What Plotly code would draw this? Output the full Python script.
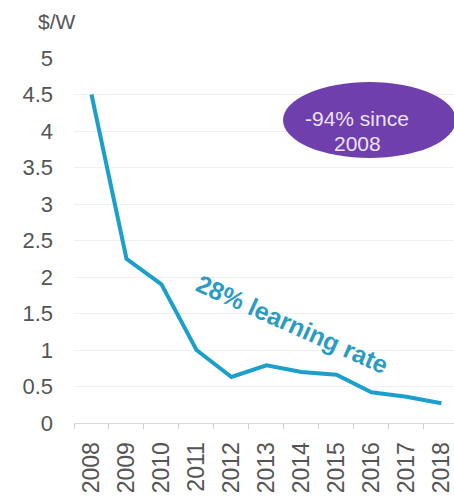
import plotly.graph_objects as go

# Solar module price, $/W
years = ["2008", "2009", "2010", "2011", "2012", "2013", "2014", "2015", "2016", "2017", "2018"]
price = [4.5, 2.25, 1.9, 1.0, 0.63, 0.79, 0.70, 0.66, 0.42, 0.36, 0.27]
y_ticks = [0, 0.5, 1, 1.5, 2, 2.5, 3, 3.5, 4, 4.5, 5]
y_tick_text = ["0", "0.5", "1", "1.5", "2", "2.5", "3", "3.5", "4", "4.5", "5"]

FONT = "Liberation Sans, Arial, sans-serif"
LINE_COLOR = "#1c9fcb"
PURPLE = "#6f3fae"
BADGE_TEXT = "#ece3f7"

fig = go.Figure()
fig.add_trace(go.Scatter(
    x=years, y=price, mode="lines",
    line=dict(color=LINE_COLOR, width=4),
    hoverinfo="skip", showlegend=False,
))

fig.update_layout(
    width=454, height=496,
    margin=dict(l=74, r=0, t=58, b=73),
    paper_bgcolor="white", plot_bgcolor="white",
    font=dict(family=FONT, size=22, color="#555555"),
    xaxis=dict(
        type="category", range=[-0.5, 10.36],
        tickangle=-90, tickson="boundaries",
        ticks="outside", ticklen=5, tickcolor="#d0d0d0",
        showline=True, linecolor="#d9d9d9", linewidth=1,
        showgrid=False, zeroline=False,
        ticklabelstandoff=9,
        tickfont=dict(size=23, color="#555555"),
    ),
    yaxis=dict(
        range=[0, 5], tickvals=y_ticks, ticktext=y_tick_text,
        showgrid=True, gridcolor="#f0f0f0", gridwidth=1,
        zeroline=False, showline=False, ticks="",
        ticklabelstandoff=20,
        tickfont=dict(size=22, color="#555555"),
    ),
    shapes=[dict(
        type="circle", xref="paper", yref="paper",
        x0=0.55, x1=1.005, y0=0.726, y1=0.934,
        fillcolor=PURPLE, line=dict(width=0), layer="above",
    )],
    annotations=[
        dict(text="$/W", xref="paper", yref="paper", x=-0.045, y=1.099,
             xanchor="center", yanchor="middle", showarrow=False,
             font=dict(size=21, color="#555555")),
        dict(text="-94% since", xref="paper", yref="paper",
             x=0.745, y=0.833, xanchor="center", yanchor="middle",
             showarrow=False, font=dict(size=21, color=BADGE_TEXT)),
        dict(text="2008", xref="paper", yref="paper",
             x=0.745, y=0.767, xanchor="center", yanchor="middle",
             showarrow=False, font=dict(size=21, color=BADGE_TEXT)),
        dict(text="<b>28% learning rate</b>", xref="paper", yref="paper",
             x=0.574, y=0.272, xanchor="center", yanchor="middle",
             textangle=24, showarrow=False,
             font=dict(size=25, color="#2a9cc4")),
    ],
)

fig.write_html("out.html")
